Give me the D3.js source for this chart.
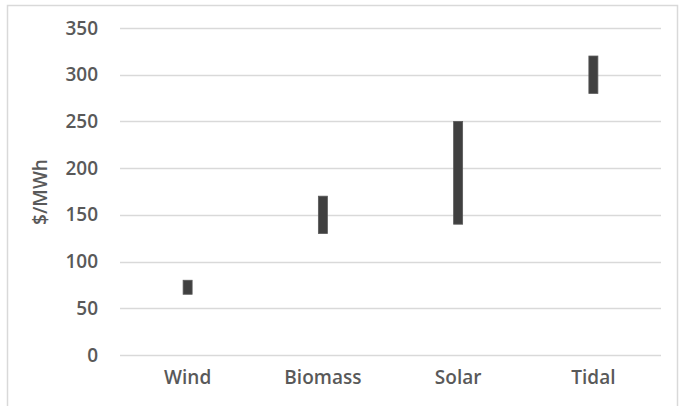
<!DOCTYPE html>
<html>
<head>
<meta charset="utf-8">
<script src="https://cdn.jsdelivr.net/npm/d3@7"></script>
<style>
    body { margin: 0; background: #fff; }
    svg text { font-family: "Open Sans", "Liberation Sans", sans-serif; fill: #595959; }
</style>
</head>
<body>
<div id="chart"></div>
<script>
// cost ranges ($/MWh)
const categories = ['Wind', 'Biomass', 'Solar', 'Tidal'];
const lowValues = [65, 130, 140, 280];
const highValues = [80, 170, 250, 320];
const yTicks = [0, 50, 100, 150, 200, 250, 300, 350];
const yTitle = '$/MWh';

let width = 680, height = 406;
let margin = {top: 28, right: 19, bottom: 51, left: 120};

let svg = d3.select('#chart').append('svg')
    .attr('width', width)
    .attr('height', height);

// chart frame
svg.append('rect')
    .attr('x', 7.5)
    .attr('y', 5.5)
    .attr('width', 670)
    .attr('height', 420)
    .attr('fill', 'none')
    .attr('stroke', '#d9d9d9')
    .attr('stroke-width', 1.5);

let x = d3.scaleBand()
    .domain(categories)
    .range([margin.left, width - margin.right])
    .padding(0);

let y = d3.scaleLinear()
    .domain([0, 350])
    .range([height - margin.bottom, margin.top]);

// gridlines
svg.append('g')
    .selectAll('line')
    .data(yTicks)
    .enter().append('line')
    .attr('x1', margin.left)
    .attr('x2', width - margin.right)
    .attr('y1', d => Math.round(y(d)) + 0.5)
    .attr('y2', d => Math.round(y(d)) + 0.5)
    .attr('stroke', '#d9d9d9')
    .attr('stroke-width', 1.5);

// y axis labels
let yAxis = svg.append('g')
    .attr('transform', 'translate(' + (margin.left - 13) + ',0)')
    .call(d3.axisLeft(y).tickValues(yTicks).tickSize(0).tickPadding(9));
yAxis.select('.domain').remove();
yAxis.selectAll('text')
    .style('font-size', '19px')
    .style('font-weight', 600)
    .attr('fill', '#595959');

// x axis labels
let xAxis = svg.append('g')
    .attr('transform', 'translate(0,' + (height - margin.bottom) + ')')
    .call(d3.axisBottom(x).tickSize(0).tickPadding(16));
xAxis.select('.domain').remove();
xAxis.selectAll('text')
    .style('font-size', '19px')
    .style('font-weight', 600)
    .attr('fill', '#595959');

// range bars
let barWidth = 9;
svg.append('g')
    .selectAll('rect')
    .data(categories)
    .enter().append('rect')
    .attr('x', d => x(d) + x.bandwidth() / 2 - barWidth / 2)
    .attr('width', barWidth)
    .attr('y', (d, i) => y(highValues[i]))
    .attr('height', (d, i) => y(lowValues[i]) - y(highValues[i]))
    .attr('fill', '#404040')
    .attr('stroke', '#5a5a5a')
    .attr('stroke-width', 0.8);

// y axis title
svg.append('text')
    .attr('transform', 'translate(47,' + 192 + ') rotate(-90)')
    .style('text-anchor', 'middle')
    .style('font-size', '19px')
    .style('font-weight', 600)
    .text(yTitle);
</script>
</body>
</html>
